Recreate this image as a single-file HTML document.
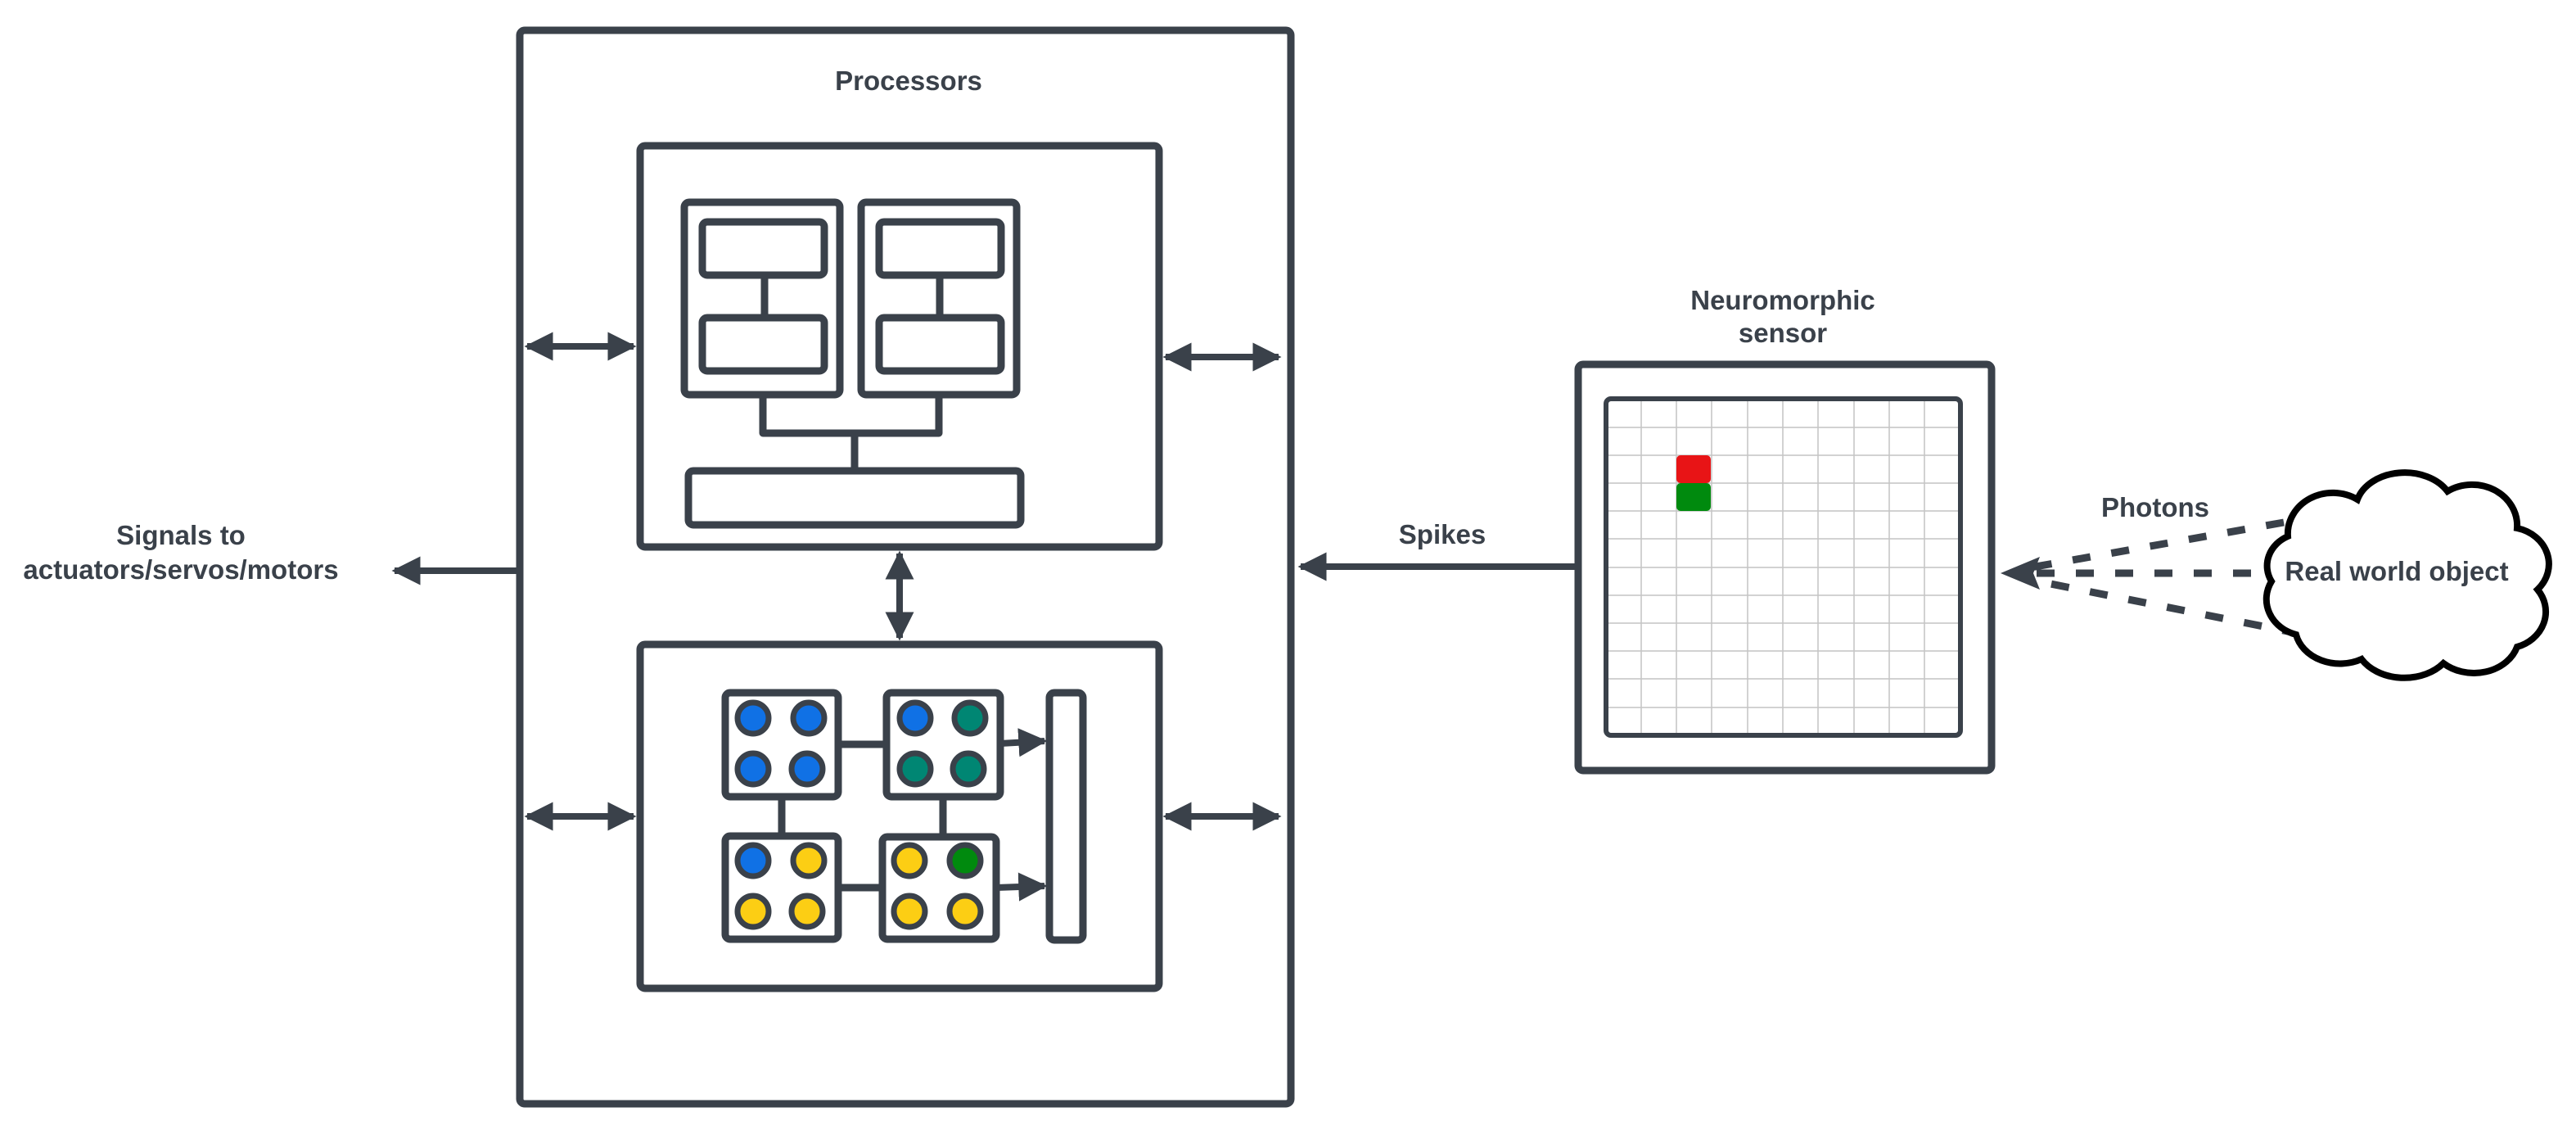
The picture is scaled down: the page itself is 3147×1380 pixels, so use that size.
<!DOCTYPE html>
<html><head><meta charset="utf-8"><style>
html,body{margin:0;padding:0;background:#fff;}
svg{display:block}
text{font-family:"Liberation Sans",sans-serif;font-weight:bold;fill:#3a414a;font-size:33px;text-anchor:middle}
</style></head><body>
<svg width="3147" height="1380" viewBox="0 0 3147 1380" xmlns="http://www.w3.org/2000/svg">
<defs>
<marker id="a" viewBox="0 0 10 10" refX="9" refY="5" markerWidth="4.4" markerHeight="4.4" orient="auto-start-reverse" markerUnits="strokeWidth"><path d="M0,0 L10,5 L0,10 z" fill="#3a414a"/></marker>
</defs>
<g fill="none" stroke="#3a414a" stroke-width="9" stroke-linejoin="round">
<rect x="635" y="37" width="942" height="1311" rx="6"/>
<rect x="782" y="178" width="634" height="490" rx="6"/>
<rect x="836" y="247" width="190" height="235" rx="6"/>
<rect x="1052" y="247" width="190" height="235" rx="6"/>
<rect x="858" y="271" width="149" height="65" rx="6"/>
<rect x="858" y="388" width="149" height="65" rx="6"/>
<rect x="1074" y="271" width="149" height="65" rx="6"/>
<rect x="1074" y="388" width="149" height="65" rx="6"/>
<line x1="934" y1="336" x2="934" y2="388"/>
<line x1="1148" y1="336" x2="1148" y2="388"/>
<path d="M932,482 V529 H1147 V482"/>
<line x1="1044" y1="529" x2="1044" y2="575"/>
<rect x="841" y="575" width="406" height="66" rx="6"/>
<rect x="782" y="787" width="634" height="420" rx="6"/>
<rect x="886" y="846" width="138" height="127" rx="6"/>
<rect x="1083" y="846" width="139" height="127" rx="6"/>
<rect x="886" y="1021" width="138" height="126" rx="6"/>
<rect x="1078" y="1022" width="139" height="125" rx="6"/>
<rect x="1282" y="846" width="41" height="302" rx="6"/>
<line x1="1024" y1="909" x2="1083" y2="909"/>
<line x1="1024" y1="1084" x2="1078" y2="1084"/>
<line x1="955" y1="973" x2="955" y2="1021"/>
<line x1="1152" y1="973" x2="1152" y2="1022"/>
<rect x="1928" y="445" width="505" height="496" rx="6"/>
</g>
<g stroke="#3a414a" stroke-width="7">
<circle cx="920" cy="877" r="19" fill="#1071e5"/><circle cx="988" cy="877" r="19" fill="#1071e5"/>
<circle cx="920" cy="939" r="19" fill="#1071e5"/><circle cx="986" cy="939" r="19" fill="#1071e5"/>
<circle cx="1118" cy="877" r="19" fill="#1071e5"/><circle cx="1185" cy="877" r="19" fill="#008673"/>
<circle cx="1118" cy="939" r="19" fill="#008673"/><circle cx="1183" cy="939" r="19" fill="#008673"/>
<circle cx="920" cy="1051" r="19" fill="#1071e5"/><circle cx="988" cy="1051" r="19" fill="#fcce14"/>
<circle cx="920" cy="1113" r="19" fill="#fcce14"/><circle cx="986" cy="1113" r="19" fill="#fcce14"/>
<circle cx="1111" cy="1051" r="19" fill="#fcce14"/><circle cx="1179" cy="1051" r="19" fill="#008a0e"/>
<circle cx="1111" cy="1113" r="19" fill="#fcce14"/><circle cx="1179" cy="1113" r="19" fill="#fcce14"/>
</g>
<g stroke="#3a414a" stroke-width="8" fill="none">
<line x1="644" y1="423" x2="774" y2="423" marker-start="url(#a)" marker-end="url(#a)"/>
<line x1="1424" y1="436" x2="1562" y2="436" marker-start="url(#a)" marker-end="url(#a)"/>
<line x1="644" y1="997" x2="774" y2="997" marker-start="url(#a)" marker-end="url(#a)"/>
<line x1="1424" y1="997" x2="1562" y2="997" marker-start="url(#a)" marker-end="url(#a)"/>
<line x1="1099" y1="676" x2="1099" y2="779" marker-start="url(#a)" marker-end="url(#a)"/>
<line x1="1222" y1="908" x2="1276" y2="905" marker-end="url(#a)"/>
<line x1="1217" y1="1084" x2="1276" y2="1082" marker-end="url(#a)"/>
<line x1="634" y1="697" x2="482" y2="697" marker-end="url(#a)"/>
<line x1="1928" y1="692" x2="1589" y2="692" marker-end="url(#a)"/>
</g>
<rect x="1962" y="487" width="433" height="411" rx="6" fill="#fff" stroke="#3a414a" stroke-width="6"/>
<g stroke="#c4c4c4" stroke-width="1.5">
<line x1="2005" y1="490" x2="2005" y2="895"/><line x1="2048" y1="490" x2="2048" y2="895"/><line x1="2091" y1="490" x2="2091" y2="895"/><line x1="2135" y1="490" x2="2135" y2="895"/><line x1="2178" y1="490" x2="2178" y2="895"/><line x1="2221" y1="490" x2="2221" y2="895"/><line x1="2265" y1="490" x2="2265" y2="895"/><line x1="2308" y1="490" x2="2308" y2="895"/><line x1="2351" y1="490" x2="2351" y2="895"/>
<line x1="1965" y1="522" x2="2392" y2="522"/><line x1="1965" y1="556" x2="2392" y2="556"/><line x1="1965" y1="590" x2="2392" y2="590"/><line x1="1965" y1="624" x2="2392" y2="624"/><line x1="1965" y1="658" x2="2392" y2="658"/><line x1="1965" y1="693" x2="2392" y2="693"/><line x1="1965" y1="727" x2="2392" y2="727"/><line x1="1965" y1="761" x2="2392" y2="761"/><line x1="1965" y1="795" x2="2392" y2="795"/><line x1="1965" y1="829" x2="2392" y2="829"/><line x1="1965" y1="864" x2="2392" y2="864"/>
</g>
<rect x="2048" y="556" width="42" height="34" rx="5" fill="#e81416"/>
<rect x="2048" y="590" width="42" height="34" rx="5" fill="#008a0e"/>
<g stroke="#3a414a" stroke-width="9" fill="none" stroke-dasharray="22 26">
<line x1="2790" y1="638" x2="2470" y2="695"/>
<line x1="2750" y1="700" x2="2470" y2="700"/>
<line x1="2810" y1="774" x2="2470" y2="706"/>
</g>
<path d="M2444,700 L2492,680 L2484,700 L2492,720 z" fill="#3a414a"/>
<path d="M2795,655 A55,50 0 0 1 2880,610 A60,45 0 0 1 2990,600 A55,50 0 0 1 3075,645 A50,45 0 0 1 3100,720 A50,45 0 0 1 3075,790 A55,45 0 0 1 2985,810 A60,45 0 0 1 2885,805 A55,45 0 0 1 2805,775 A50,45 0 0 1 2775,710 A45,40 0 0 1 2795,655 z" fill="#fff" stroke="#000" stroke-width="8"/>
<text x="1110" y="110">Processors</text>
<text x="2178" y="378">Neuromorphic</text>
<text x="2178" y="418">sensor</text>
<text x="1762" y="664">Spikes</text>
<text x="2633" y="631">Photons</text>
<text x="2928" y="709">Real world object</text>
<text x="221" y="665">Signals to</text>
<text x="221" y="707">actuators/servos/motors</text>
</svg>
</body></html>
